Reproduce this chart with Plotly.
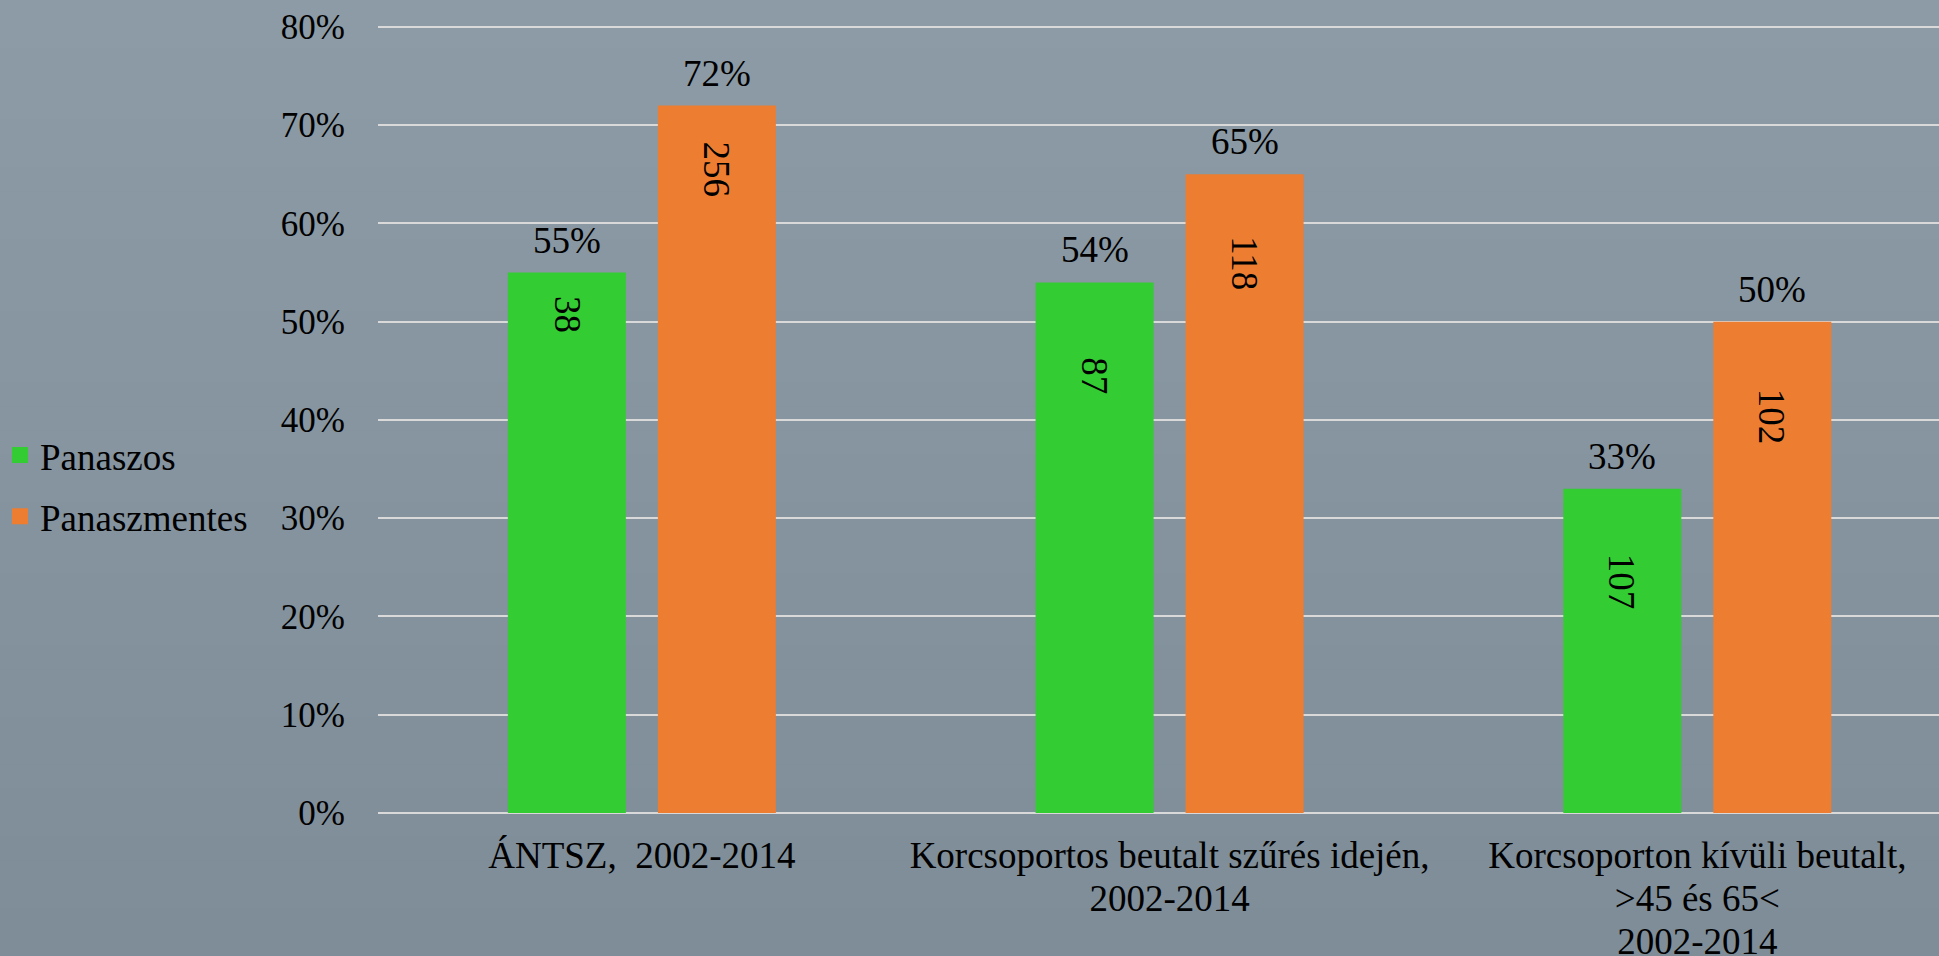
import plotly.graph_objects as go

# ---- data ----
cat_lines = [
    ["ÁNTSZ,\u00a0 2002-2014"],
    ["Korcsoportos beutalt szűrés idején,", "2002-2014"],
    ["Korcsoporton kívüli beutalt,", "&gt;45 és 65&lt;", "2002-2014"],
]
series_names = ["Panaszos", "Panaszmentes"]
panaszos_pct = [0.55, 0.54, 0.33]
panaszmentes_pct = [0.72, 0.65, 0.50]
panaszos_n = [38, 87, 107]
panaszmentes_n = [256, 118, 102]
# vertical placement of the rotated count labels (axis units)
panaszos_n_pos = [0.507, 0.445, 0.235]
panaszmentes_n_pos = [0.655, 0.560, 0.403]
y_tick_vals = [0, 0.1, 0.2, 0.3, 0.4, 0.5, 0.6, 0.7, 0.8]
y_tick_text = ["0%", "10%", "20%", "30%", "40%", "50%", "60%", "70%", "80%"]

GREEN = "#33CC33"
ORANGE = "#ED7D31"
FONT = "Liberation Serif"
GRID = "#D9D9D9"
BG_TOP = (0x8C, 0x9B, 0xA5)
BG_BOTTOM = (0x7E, 0x8D, 0x98)

W, H = 1939, 956
Y_TOP = 0.802
ML, MR, MT, MB = 378, 0, 25, 143
X_RANGE = [-0.5, 2.458]
BARGAP = 0.4315
GROUPGAP = 0.2133
XLAB_SIZE = 37

# category labels: tight line spacing with full-size glyphs
categories = ["<br>".join(f'<span style="font-size:{XLAB_SIZE}px">{ln}</span>' for ln in lines)
              for lines in cat_lines]

fig = go.Figure()
fig.add_trace(go.Bar(name=series_names[0], x=categories, y=panaszos_pct,
                     marker=dict(color=GREEN, line=dict(width=0)),
                     showlegend=False, hoverinfo="skip"))
fig.add_trace(go.Bar(name=series_names[1], x=categories, y=panaszmentes_pct,
                     marker=dict(color=ORANGE, line=dict(width=0)),
                     showlegend=False, hoverinfo="skip"))
# legend entries (square swatches)
for name, col, grp in [(series_names[0], GREEN, "a"), (series_names[1], ORANGE, "b")]:
    fig.add_trace(go.Scatter(name=name, x=[None], y=[None], mode="markers",
                             marker=dict(symbol="square", size=19, color=col, line=dict(width=0)),
                             legendgroup=grp, showlegend=True, hoverinfo="skip"))

# bar-centre offset within each category (in category units)
slot = (1 - BARGAP) / 2
offsets = [-slot / 2, slot / 2]

annotations = []
for s, (pcts, ns, npos) in enumerate([(panaszos_pct, panaszos_n, panaszos_n_pos),
                                      (panaszmentes_pct, panaszmentes_n, panaszmentes_n_pos)]):
    for i in range(len(categories)):
        xc = i + offsets[s]
        annotations.append(dict(
            x=xc, y=pcts[i], xref="x", yref="y", text=f"{round(pcts[i]*100)}%",
            showarrow=False, yanchor="bottom", yshift=10,
            font=dict(family=FONT, size=37, color="black")))
        annotations.append(dict(
            x=xc, y=npos[i], xref="x", yref="y", text=str(ns[i]),
            showarrow=False, textangle=90,
            font=dict(family=FONT, size=37, color="black")))

# soft vertical background gradient (decorative)
shapes = []
N = 40
ph = H - MT - MB
for k in range(N):
    t = k / (N - 1)
    c = tuple(round(BG_TOP[j] + (BG_BOTTOM[j] - BG_TOP[j]) * t) for j in range(3))
    top_px = k * H / N
    bot_px = (k + 1) * H / N + 1
    shapes.append(dict(type="rect", xref="paper", yref="paper", layer="below",
                       x0=-ML / (W - ML - MR) - 0.01, x1=1.01,
                       y0=(H - MB - bot_px) / ph, y1=(H - MB - top_px) / ph,
                       fillcolor="rgb(%d,%d,%d)" % c, line=dict(width=0)))

fig.update_layout(
    width=W, height=H,
    margin=dict(l=ML, r=MR, t=MT, b=MB, pad=0, autoexpand=False),
    paper_bgcolor="rgb(%d,%d,%d)" % BG_BOTTOM, plot_bgcolor="rgba(0,0,0,0)",
    barmode="group", bargap=BARGAP, bargroupgap=GROUPGAP,
    font=dict(family=FONT, size=37, color="black"),
    showlegend=True,
    legend=dict(x=-ML / (W - ML - MR), xanchor="left", y=0.493, yanchor="top",
                bgcolor="rgba(0,0,0,0)", font=dict(family=FONT, size=37, color="black"),
                tracegroupgap=10, traceorder="grouped", itemsizing="trace", itemclick=False),
    annotations=annotations,
    shapes=shapes,
)
fig.update_xaxes(type="category", range=X_RANGE, showgrid=False, zeroline=False,
                 showline=False, ticks="", ticklabelstandoff=21, automargin=False,
                 tickfont=dict(family=FONT, size=33, color="black"))
fig.update_yaxes(range=[0, Y_TOP], tickvals=y_tick_vals, ticktext=y_tick_text,
                 showgrid=True, gridcolor=GRID, gridwidth=1.5,
                 zeroline=True, zerolinecolor=GRID, zerolinewidth=2,
                 showline=False, ticks="", ticklabelstandoff=32, automargin=False,
                 tickfont=dict(family=FONT, size=35, color="black"))

fig.write_html("out.html", config={"displayModeBar": False},
               post_script="document.body.style.margin='0';document.body.style.overflow='hidden';")
